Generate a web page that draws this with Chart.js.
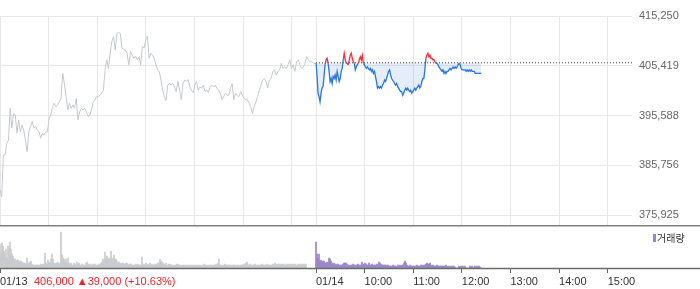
<!DOCTYPE html>
<html>
<head>
<meta charset="utf-8">
<script src="https://cdn.jsdelivr.net/npm/chart.js@4.4.0/dist/chart.umd.min.js"></script>
<style>
  html, body { margin: 0; padding: 0; background: #fff; }
  #wrap { position: relative; width: 700px; height: 289px; overflow: hidden; }
  #price { position: absolute; left: 0; top: 0; }
  #volume { position: absolute; left: 0; top: 225px; }
</style>
</head>
<body>
<div id="wrap">
  <canvas id="price" width="700" height="225"></canvas>
  <canvas id="volume" width="700" height="64"></canvas>
</div>
<script>
// time axis in minutes: 01/13 09:00 = 0, 01/14 09:00 = 390, 01/14 15:30 = 780
var X_MAX = 780;
var GRID_MINUTES = [0, 60, 120, 180, 240, 300, 360, 390, 450, 510, 570, 630, 690, 750];
var TIME_TICKS = [0, 390, 450, 510, 570, 630, 690, 750];
var TIME_LABELS = ['01/13', '01/14', '10:00', '11:00', '12:00', '13:00', '14:00', '15:00'];

var PRICE_TICKS = [375925, 385756, 395588, 405419, 415250];
var PRICE_MIN = 373949;
var BASE_PRICE = 406000;

// 01/13 prices, evenly sampled 09:00 - 15:29
var day1Start = 0, day1End = 389;
var day1Price = [
  380900,379500,387800,387800,390100,390700,397000,393100,396000,395700,
  392100,394700,392400,393700,392700,390700,388400,392400,393400,394400,
  393100,393500,392700,392400,391100,392100,391700,392400,392400,395000,
  395700,397300,398000,397300,397700,398300,399000,403900,401900,399300,
  396700,398000,397000,397700,397000,399000,394700,396300,397000,396700,
  397000,396300,395400,395700,396700,398300,398700,399300,399300,399600,
  400000,400600,404600,406600,404900,407900,410200,411200,408500,411800,
  412000,411800,408900,408700,408500,407900,405600,408200,407500,406900,
  407300,406600,407200,405600,409200,408900,410500,411300,406900,407900,
  407500,406900,405600,404600,404300,402600,400600,399300,398500,401600,
  401900,401600,401900,401200,400300,402300,400600,398700,401900,402600,
  402300,402700,401300,400600,400100,401600,402300,400600,401200,401000,
  401600,400300,400600,400100,401300,401600,401200,401600,401000,400600,
  400000,398700,399300,400000,399600,399600,401000,401900,398700,400000,
  399600,399300,400300,399600,399000,398700,398700,398000,397300,396000,
  397300,398300,399300,400600,401600,402600,402900,402300,401000,402600,
  402900,404300,404600,403600,404300,404600,405900,404900,405200,404900,
  405600,406600,404900,405600,404300,406200,406600,405600,404900,405200,
  405900,407200,406600,406200,406200,405900,405900
];

// 01/14 prices, evenly sampled 09:00 - 12:24
var day2Start = 390, day2End = 594;
var day2Price = [
  406000,403600,400000,399300,398300,400000,401000,401300,403300,405600,
  406600,406900,405900,404300,402300,402900,401900,403300,402900,403600,
  402600,404300,403300,402300,402900,404300,404900,406600,407900,406600,
  405900,405900,405600,406600,407500,407900,406900,406200,405900,404600,
  405200,405600,405900,406600,407200,406600,407500,405900,405600,405200,
  404900,405200,404900,404600,404900,404300,404600,403900,404300,403300,
  402300,401000,401300,401000,401300,401000,401600,401900,402600,402300,
  402900,403600,404300,404600,403600,402900,402600,402300,401900,401600,
  401900,401300,401000,400600,400300,400300,399600,400000,400600,401000,
  400600,401000,400600,400300,400600,400000,400300,400600,401000,400600,
  401000,401300,401600,401000,401300,402300,402900,402900,404600,406900,
  407500,407900,407200,407500,406900,406900,406600,406600,406200,405900,
  405900,405600,405200,404900,404600,404300,404600,403900,404300,403900,
  404300,404300,404600,404900,404600,404900,405200,404900,405200,404900,
  405200,405600,405900,405600,404900,404600,404600,404600,404600,404300,
  404600,404300,404600,404300,404600,404300,404300,404300,403900,403900,
  403900,403900,403900,403900,403900
];

// volume in thousand shares, one bar every ~74 seconds
var VOL_STEP = 1.234;
var day1Volume = [
  24,15,25,22,17,14,19,10,22,20, 26,19,14,12,9,9,7,8,8,5, 7,7,6,5,5,5,4,10,5,5,
  6,7,4,3,3,3,3,3,3,3, 3,4,3,4,3,15,5,4,8,6, 5,9,14,9,5,4,5,5,6,4,
  5,36,13,10,9,6,9,5,10,5, 4,5,3,3,5,4,3,6,4,5, 3,3,4,3,3,3,5,6,4,3,
  4,3,3,4,3,4,3,3,3,4, 3,5,6,9,8,16,9,12,9,10, 9,17,10,9,13,9,9,7,5,6,
  5,4,5,5,4,4,5,5,4,3, 4,4,3,3,3,3,4,3,4,3, 3,3,11,3,4,3,5,3,4,3,
  5,3,4,3,3,4,4,3,5,5,
  9,7,6,5,4,3,5,3,3,4, 4,3,3,3,2,3,3,4,4,3, 3,3,2,3,3,3,2,3,3,2,
  3,3,2,3,2,3,2,3,2,3, 2,3,2,3,4,3,3,3,2,3, 3,3,2,3,3,3,4,3,5,9,
  3,3,3,2,3,4,3,3,3,3, 3,3,2,3,3,3,2,3,3,2, 3,3,3,3,4,3,5,6,3,3,
  4,3,3,3,3,4,3,3,3,3, 3,3,4,3,3,3,3,4,3,3, 3,3,3,4,3,5,4,3,4,3,
  4,3,4,3,4,3,3,4,3,4, 3,4,3,4,3,4,3,3,4,3, 4,3,4,3,4,3,4
];
var day2Volume = [
  26,14,10,14,7,8,6,7,7,5, 5,6,5,10,9,7,5,4,5,3, 4,3,4,3,3,3,3,4,5,5,
  5,4,3,3,2,3,3,4,3,3, 3,3,4,3,3,3,6,3,4,5, 4,3,3,5,3,3,4,3,3,3,
  3,4,3,6,5,4,3,3,3,3, 3,2,3,2,2,2,2,3,2,2, 2,1,3,2,3,2,3,3,5,7,
  5,3,2,2,3,2,2,2,2,2, 2,3,2,2,2,3,3,2,3,3, 4,5,4,4,5,3,2,3,2,2,
  2,3,2,2,2,2,2,2,2,2, 3,1,2,1,2,1,2,1,2,1, 0,0,0,2,1,2,1,2,0,2,
  0,0,0,0,2,1,2,0,1,2, 1,2,1,2,1,0
];

var lastPrice = '406,000';
var changeText = '\u25B239,000';
var changePct = '(+10.63%)';
var volumeLabel = '거래량';

var BLUE = '#2b76d8';
var RED = '#f0323c';
var GRAY_LINE = '#c5c9cf';
var PURPLE = '#9984c8';

function spread(values, start, end) {
  var step = (end - start) / (values.length - 1);
  return values.map(function (v, i) { return { x: start + i * step, y: v }; });
}
function bars(values, start) {
  return values.map(function (v, i) { return { x: start + i * VOL_STEP, y: v }; });
}

Chart.defaults.font.family = "'Liberation Sans', Arial, sans-serif";
Chart.defaults.font.size = 11;

new Chart(document.getElementById('price'), {
  type: 'line',
  data: {
    datasets: [
      {
        data: spread(day2Price, day2Start, day2End),
        borderColor: BLUE, borderWidth: 1.3, pointRadius: 0, tension: 0, order: 0,
        fill: { value: BASE_PRICE, above: 'rgba(240,80,80,0.08)', below: 'rgba(62,130,215,0.14)' },
        segment: {
          borderColor: function (c) {
            return (c.p0.parsed.y + c.p1.parsed.y) / 2 > BASE_PRICE ? RED : BLUE;
          }
        }
      },
      {
        data: [{ x: day2Start, y: BASE_PRICE }, { x: X_MAX, y: BASE_PRICE }],
        borderColor: '#444', borderWidth: 1, borderDash: [1, 2], pointRadius: 0, fill: false, order: 1
      },
      {
        data: spread(day1Price, day1Start, day1End),
        borderColor: GRAY_LINE, borderWidth: 1, pointRadius: 0, tension: 0, fill: false, order: 2
      }
    ]
  },
  options: {
    responsive: false,
    animation: false,
    events: [],
    layout: { padding: { top: 16, left: 0, right: 0, bottom: 0 } },
    plugins: {
      legend: { display: false },
      tooltip: { enabled: false },
      filler: { drawTime: 'beforeDatasetsDraw' }
    },
    scales: {
      x: {
        type: 'linear', min: 0, max: X_MAX,
        afterBuildTicks: function (s) { s.ticks = GRID_MINUTES.map(function (v) { return { value: v }; }); },
        afterFit: function (s) { s.height = 0; s.paddingLeft = 0; s.paddingRight = 0; },
        ticks: { display: false },
        grid: { color: '#e8e8e8', drawTicks: false },
        border: { display: false }
      },
      y: {
        position: 'right', min: PRICE_MIN, max: PRICE_TICKS[PRICE_TICKS.length - 1],
        afterBuildTicks: function (s) { s.ticks = PRICE_TICKS.map(function (v) { return { value: v }; }); },
        afterFit: function (s) { s.width = 68; s.paddingTop = 0; s.paddingBottom = 0; },
        ticks: {
          padding: 7, color: '#666',
          callback: function (v) { return Math.round(v).toLocaleString('en-US'); }
        },
        grid: { color: '#e8e8e8', drawTicks: false },
        border: { display: false }
      }
    }
  }
});

var volumeFrame = {
  id: 'volumeFrame',
  afterDraw: function (chart) {
    var ctx = chart.ctx;
    var area = chart.chartArea;
    ctx.save();
    // separator under the price panel
    ctx.strokeStyle = '#808080';
    ctx.lineWidth = 1.5;
    ctx.beginPath(); ctx.moveTo(0, 0.75); ctx.lineTo(chart.width, 0.75); ctx.stroke();
    // volume baseline
    ctx.strokeStyle = '#6b6b6b';
    ctx.lineWidth = 1.3;
    ctx.beginPath(); ctx.moveTo(0, area.bottom + 0.5); ctx.lineTo(chart.width, area.bottom + 0.5); ctx.stroke();
    // price / change text next to the first date
    ctx.font = "11px 'Liberation Sans', Arial, sans-serif";
    ctx.fillStyle = '#e8262f';
    ctx.textAlign = 'left';
    ctx.textBaseline = 'middle';
    ctx.fillText(lastPrice + ' ' + changeText + ' ' + changePct, 34, area.bottom + 5 + 2 + 6.6);
    // legend
    ctx.fillStyle = PURPLE;
    ctx.fillRect(653, 9, 3, 8);
    ctx.fillStyle = '#333';
    ctx.font = "10px 'Noto Sans CJK KR', sans-serif";
    ctx.fillText(volumeLabel, 657, 13.5);
    ctx.restore();
  }
};

new Chart(document.getElementById('volume'), {
  type: 'bar',
  data: {
    datasets: [
      { data: bars(day1Volume, day1Start), backgroundColor: '#c9cbce', barThickness: 1 },
      { data: bars(day2Volume, day2Start), backgroundColor: PURPLE, barThickness: 1 }
    ]
  },
  options: {
    responsive: false,
    animation: false,
    events: [],
    layout: { padding: { top: 3, left: 0, right: 0, bottom: 0 } },
    datasets: { bar: { grouped: false } },
    plugins: { legend: { display: false }, tooltip: { enabled: false } },
    scales: {
      x: {
        type: 'linear', min: 0, max: X_MAX, offset: false,
        afterBuildTicks: function (s) { s.ticks = TIME_TICKS.map(function (v) { return { value: v }; }); },
        afterFit: function (s) { s.height = 21; s.paddingLeft = 0; s.paddingRight = 0; },
        ticks: {
          align: 'start', autoSkip: false, maxRotation: 0, padding: 2, color: '#333',
          callback: function (v, i) { return TIME_LABELS[i]; }
        },
        grid: { drawOnChartArea: false, drawTicks: true, tickLength: 5, color: '#666', offset: false },
        border: { display: false }
      },
      y: {
        position: 'right', min: 0, max: 40,
        afterFit: function (s) { s.width = 68; s.paddingTop = 0; s.paddingBottom = 0; },
        ticks: { display: false },
        grid: { display: false },
        border: { display: false }
      }
    }
  },
  plugins: [volumeFrame]
});
</script>
</body>
</html>
